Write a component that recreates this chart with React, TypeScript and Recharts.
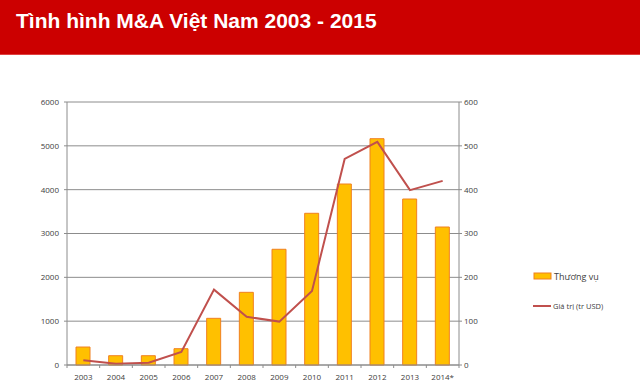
import React from "react";
import {
  ComposedChart,
  Bar,
  Line,
  XAxis,
  YAxis,
  CartesianGrid,
} from "recharts";

const years = ["2003", "2004", "2005", "2006", "2007", "2008", "2009", "2010", "2011", "2012", "2013", "2014*"];
const deals = [410, 212, 212, 372, 1065, 1658, 2640, 3461, 4129, 5163, 3787, 3148];
const values = [11, 3, 5, 30, 172, 110, 99, 169, 470, 509, 399, 420];
const leftTicks = [0, 1000, 2000, 3000, 4000, 5000, 6000];
const rightTicks = [0, 100, 200, 300, 400, 500, 600];
const seriesNames = ["Thương vụ", "Giá trị (tr USD)"];

const data = years.map((y, i) => ({ year: y, deals: deals[i], value: values[i] }));

const W = 640;
const H = 384;
const LEFT_W = 67;
const RIGHT_W = 40;
const MARGIN = { top: 102, right: 141, bottom: 0, left: 0 };
const PLOT_W = W - LEFT_W - RIGHT_W - MARGIN.right;
const STEP = PLOT_W / years.length;
const FONT = "'Open Sans', 'Liberation Sans', sans-serif";
const GRID = "#8c8c8c";
const BAR_FILL = "#FFC000";
const BAR_STROKE = "#F08020";
const LINE_COLOR = "#C0504D";

const XTick = (props: any) => {
  const { x, y, payload, index } = props;
  const bx = x - STEP / 2;
  return (
    <g>
      <line x1={bx} y1={y} x2={bx} y2={y + 3} stroke={GRID} strokeWidth={1} />
      {index === years.length - 1 ? (
        <line x1={bx + STEP} y1={y} x2={bx + STEP} y2={y + 3} stroke={GRID} strokeWidth={1} />
      ) : null}
      <text x={x} y={y + 15} textAnchor="middle" fontSize={8} fontFamily={FONT} fill="#404040">
        {payload.value}
      </text>
    </g>
  );
};

const LegendBox = () => (
  <div style={{ position: "absolute", left: 533, top: 270, width: 107, fontFamily: FONT, color: "#404040" }}>
    <div style={{ display: "flex", alignItems: "center", height: 12 }}>
      <svg width={21} height={8} style={{ display: "block" }}>
        <rect x={1} y={1} width={17} height={6} fill={BAR_FILL} stroke={BAR_STROKE} strokeWidth={1} />
      </svg>
      <span style={{ fontSize: 9 }}>{seriesNames[0]}</span>
    </div>
    <div style={{ height: 18 }} />
    <div style={{ display: "flex", alignItems: "center", height: 12 }}>
      <svg width={20} height={8} style={{ display: "block" }}>
        <line x1={0} y1={4} x2={18} y2={4} stroke={LINE_COLOR} strokeWidth={2} />
      </svg>
      <span style={{ fontSize: 7.5 }}>{seriesNames[1]}</span>
    </div>
  </div>
);

export default function App() {
  return (
    <div style={{ position: "absolute", left: 0, top: 0, width: W, height: H, background: "#fff", overflow: "hidden" }}>
      <div
        style={{
          position: "absolute",
          left: 0,
          top: 0,
          width: W,
          height: 54,
          background: "#CC0000",
          borderBottom: "1px solid #e04040",
        }}
      />
      <div
        style={{
          position: "absolute",
          left: 16,
          top: 9,
          color: "#fff",
          fontFamily: "'Liberation Sans', Arial, sans-serif",
          fontWeight: "bold",
          fontSize: 21,
          lineHeight: "normal",
          whiteSpace: "nowrap",
        }}
      >
        Tình hình M&amp;A Việt Nam 2003 - 2015
      </div>
      <div style={{ position: "absolute", left: 0, top: 0 }}>
        <ComposedChart width={W} height={H} data={data} margin={MARGIN}>
          <CartesianGrid vertical={false} stroke={GRID} strokeWidth={1} yAxisId="left" />
          <XAxis
            dataKey="year"
            height={19}
            interval={0}
            tickLine={false}
            tickSize={0}
            tickMargin={0}
            axisLine={{ stroke: GRID }}
            tick={<XTick />}
          />
          <YAxis
            yAxisId="left"
            domain={[0, 6000]}
            ticks={leftTicks}
            width={LEFT_W}
            tickSize={3}
            tickMargin={5}
            axisLine={{ stroke: GRID }}
            tickLine={{ stroke: GRID }}
            tick={{ fontSize: 8, fontFamily: FONT, fill: "#404040" }}
            interval={0}
          />
          <YAxis
            yAxisId="right"
            orientation="right"
            domain={[0, 600]}
            ticks={rightTicks}
            width={RIGHT_W}
            tickSize={3}
            tickMargin={2}
            axisLine={{ stroke: GRID }}
            tickLine={{ stroke: GRID }}
            tick={{ fontSize: 8, fontFamily: FONT, fill: "#404040" }}
            interval={0}
          />
          <Bar
            yAxisId="left"
            dataKey="deals"
            name={seriesNames[0]}
            barSize={14}
            fill={BAR_FILL}
            stroke={BAR_STROKE}
            strokeWidth={1}
            isAnimationActive={false}
          />
          <Line
            yAxisId="right"
            dataKey="value"
            name={seriesNames[1]}
            type="linear"
            stroke={LINE_COLOR}
            strokeWidth={2}
            dot={false}
            activeDot={false}
            isAnimationActive={false}
          />
        </ComposedChart>
      </div>
      <LegendBox />
    </div>
  );
}
